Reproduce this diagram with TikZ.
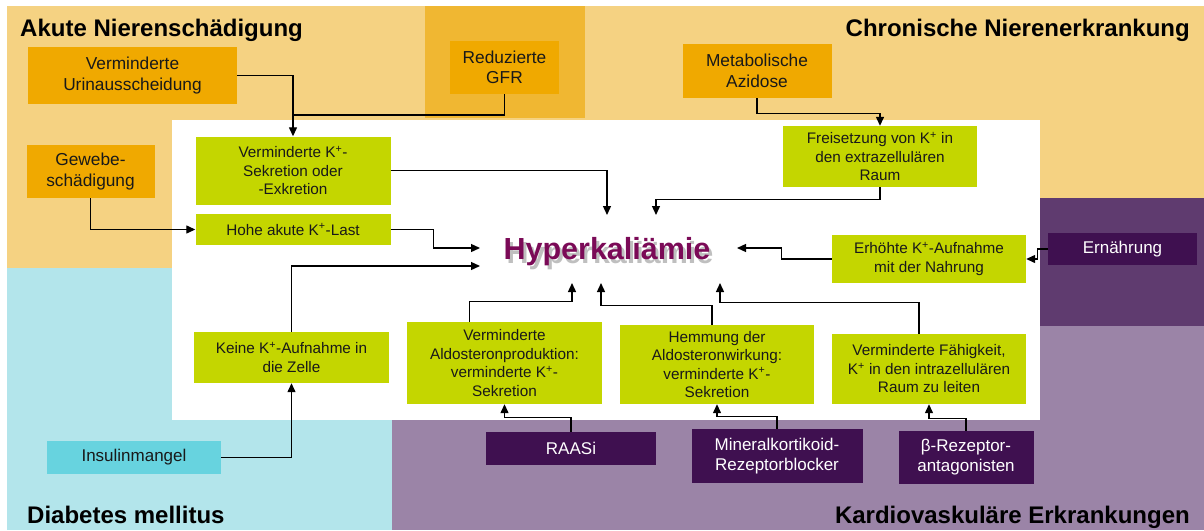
\documentclass[tikz,border=0pt]{standalone}
\usepackage{fontspec}
\setmainfont{Liberation Sans}
\usetikzlibrary{arrows.meta,calc}
\definecolor{bgorange}{HTML}{F5D282}
\definecolor{dkorange}{HTML}{F0B732}
\definecolor{boxorange}{HTML}{F0A900}
\definecolor{boxgreen}{HTML}{C4D600}
\definecolor{bgcyan}{HTML}{B3E5EB}
\definecolor{boxcyan}{HTML}{67D3DF}
\definecolor{bgpurple}{HTML}{9B84A7}
\definecolor{midpurple}{HTML}{5F3B6F}
\definecolor{boxpurple}{HTML}{3F1050}
\definecolor{hypcol}{HTML}{7B0A57}
\newcommand{\Kp}{K\textsuperscript{+}}
\begin{document}
\begin{tikzpicture}[x=1pt,y=-1pt,
  sz/.style 2 args={minimum width=#1pt, minimum height=#2pt},
  box/.style={inner sep=0pt, align=center, text=black!90},
  obox/.style={box, fill=boxorange, font=\fontsize{17.3}{20.5}\selectfont},
  gbox/.style={box, fill=boxgreen, font=\fontsize{15.3}{18.5}\selectfont},
  pbox/.style={box, fill=boxpurple, text=white, font=\fontsize{17}{20}\selectfont},
  cbox/.style={box, fill=boxcyan, font=\fontsize{17}{20}\selectfont},
  head/.style={inner sep=0pt, font=\fontsize{24}{28}\selectfont\bfseries, text=black},
  hypfont/.style={inner sep=0pt, anchor=base, font=\fontsize{30.5}{34}\selectfont\bfseries},
  arr/.style={line width=1.3pt, -{Triangle[length=9pt,width=8pt]}},
  conn/.style={line width=1.3pt}
]
\useasboundingbox (0,0) rectangle (1204,530);
% background regions
\fill[white] (0,0) rectangle (1204,530);
\fill[bgorange] (7,6) rectangle (1204,268);
\fill[bgcyan] (7,268) rectangle (392,530);
\fill[bgpurple] (392,420) rectangle (1204,530);
\fill[bgpurple] (1040,198) rectangle (1204,530);
\fill[midpurple] (1040,198) rectangle (1204,326);
\fill[dkorange] (425,6) rectangle (585,118);
\fill[white] (172,120) rectangle (1040,420);

% headings
\node[head, anchor=base west] (hA) at (20,36) {Akute Nierenschädigung};
\node[head, anchor=base east] (hC) at (1190,36) {Chronische Nierenerkrankung};
\node[head, anchor=base west] (hD) at (27,523) {Diabetes mellitus};
\node[head, anchor=base east] (hK) at (1190,523) {Kardiovaskuläre Erkrankungen};

% central term with soft shadow
\node[hypfont, text=black, opacity=0.25] (shd) at (610,263) {Hyperkaliämie};
\node[hypfont, text=hypcol] (hyp) at (607,259) {Hyperkaliämie};

% orange boxes
\node[obox, sz={209}{57}] (uri) at (132.5,75.5) {Verminderte\\Urinausscheidung};
\node[obox, sz={109}{53}] (gfr) at (504.5,67.5) {Reduzierte\\GFR};
\node[obox, sz={149}{54}] (azi) at (757,71) {Metabolische\\Azidose};
\node[obox, sz={128}{53}] (gew) at (90.5,171.5) {Gewebe-\\schädigung};

% green boxes
\node[gbox, sz={195}{68}] (vks) at (293,170.5) {Verminderte \Kp-\\Sekretion oder\\-Exkretion};
\node[gbox, sz={195}{31}] (hoh) at (293,229.5) {Hohe akute \Kp-Last};
\node[gbox, sz={194}{61}] (fre) at (880,156.5) {Freisetzung von \Kp{} in\\den extrazellulären\\Raum};
\node[gbox, sz={194}{48}] (erh) at (929,259) {Erhöhte \Kp-Aufnahme\\mit der Nahrung};
\node[gbox, sz={195}{51}] (kei) at (291.5,357.5) {Keine \Kp-Aufnahme in\\die Zelle};
\node[gbox, sz={195}{82}] (ald) at (504.5,363) {Verminderte\\Aldosteronproduktion:\\verminderte \Kp-\\Sekretion};
\node[gbox, sz={194}{79}] (hem) at (717,364.5) {Hemmung der\\Aldosteronwirkung:\\verminderte \Kp-\\Sekretion};
\node[gbox, sz={194}{70}] (fae) at (929,369) {Verminderte Fähigkeit,\\\Kp{} in den intrazellulären\\Raum zu leiten};

% purple / cyan boxes
\node[pbox, sz={149}{32}] (ern) at (1122.5,249) {Ernährung};
\node[cbox, sz={174}{33}] (ins) at (134,457.5) {Insulinmangel};
\node[pbox, sz={170}{33}] (raa) at (571,448.5) {RAASi};
\node[pbox, sz={171}{54}] (min) at (777,456) {Mineralkortikoid-\\Rezeptorblocker};
\node[pbox, sz={135}{53}] (bet) at (966,457.5) {β-Rezeptor-\\antagonisten};

% arrow targets around the central term
\coordinate (h1) at (607,215);
\coordinate (h2) at (480,248);
\coordinate (h3) at (480,266);
\coordinate (h4) at (656,215);
\coordinate (h5) at (737,248);
\coordinate (h6) at (572,283);
\coordinate (h7) at (601,283);
\coordinate (h8) at (720,283);
\coordinate (j1) at (293,115);

% connectors
\draw[arr] (uri.east) -| (vks.north);
\draw[conn] (gfr.south) |- (j1);
\draw[arr] (azi.south) -- ++(0,15) -| (fre.north);
\draw[arr] (gew.south) |- (hoh.west);
\draw[arr] (vks.east) -| (h1);
\draw[arr] (hoh.east) -- ++(43,0) |- (h2);
\draw[arr] (kei.north) |- (h3);
\draw[arr] (fre.south) -- ++(0,12) -| (h4);
\draw[arr] (erh.west) -- ++(-50,0) |- (h5);
\draw[arr] (ern.west) -- ++(-10,0) |- (erh.east);
\draw[arr] ($(ald.north)+(-35,0)$) -- ++(0,-20) -| (h6);
\draw[arr] ($(hem.north)+(-5,0)$) -- ++(0,-19) -| (h7);
\draw[arr] ($(fae.north)+(-10,0)$) -- ++(0,-31) -| (h8);
\draw[arr] (ins.east) -| (kei.south);
\draw[arr] (raa.north) -- ++(0,-14) -| (ald.south);
\draw[arr] (min.north) -- ++(0,-12) -| (hem.south);
\draw[arr] (bet.north) -- ++(0,-12) -| (fae.south);
\end{tikzpicture}
\end{document}
